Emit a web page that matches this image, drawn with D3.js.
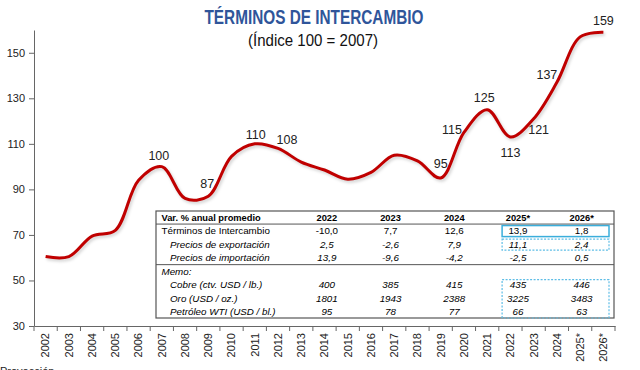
<!DOCTYPE html>
<html lang="es">
<head>
<meta charset="utf-8">
<title>Términos de intercambio</title>
<script src="https://cdn.jsdelivr.net/npm/d3@7"></script>
<style>
  body { margin: 0; background: #fff; }
  svg { display: block; font-family: "Liberation Sans", Arial, sans-serif; }
</style>
</head>
<body>
<div id="grafico"></div>
<script>
// Datos del gráfico (índice 100 = 2007)
const years = ["2002", "2003", "2004", "2005", "2006", "2007", "2008", "2009", "2010", "2011",
  "2012", "2013", "2014", "2015", "2016", "2017", "2018", "2019", "2020", "2021",
  "2022", "2023", "2024", "2025*", "2026*"];
const values = [60.5, 60.5, 69.5, 72, 94, 100, 86, 87, 104.5, 110,
  108, 102, 98.5, 94.5, 97.5, 105, 102.5, 95, 115, 125,
  113, 121, 137, 157, 159];
const yTicks = [30, 50, 70, 90, 110, 130, 150];

// Etiquetas de datos
const labelYears = ["2007", "2009", "2011", "2012", "2019", "2020", "2021", "2022", "2023", "2024", "2026*"];
const labelTexts = ["100", "87", "110", "108", "95", "115", "125", "113", "121", "137", "159"];

// Tabla
const tableHeader = "Var. % anual promedio";
const tableCols = ["2022", "2023", "2024", "2025*", "2026*"];
const rowNames = ["Términos de Intercambio", "Precios de exportación", "Precios de importación",
  "Memo:", "Cobre (ctv. USD / lb.)", "Oro (USD / oz.)", "Petróleo WTI (USD / bl.)"];
const terminos = ["-10,0", "7,7", "12,6", "13,9", "1,8"];
const exportacion = ["2,5", "-2,6", "7,9", "11,1", "2,4"];
const importacion = ["13,9", "-9,6", "-4,2", "-2,5", "0,5"];
const cobre = ["400", "385", "415", "435", "446"];
const oro = ["1801", "1943", "2388", "3225", "3483"];
const petroleo = ["95", "78", "77", "66", "63"];

// Desplazamiento de las etiquetas respecto al punto (px)
const labelOffsets = {
  "2007": [-3, -11], "2009": [-1, -13], "2011": [1, -9], "2012": [9, -9],
  "2019": [0, -14], "2020": [-12, -3], "2021": [-3, -12], "2022": [0, 16],
  "2023": [5, 11], "2024": [-10, -8], "2026*": [0, -12]
};

const width = 640, height = 370;
const plot = { left: 34, right: 615, top: 30, bottom: 326 };

const svg = d3.select("#grafico")
  .append("svg")
  .attr("width", width)
  .attr("height", height);

// Escalas
const x = d3.scaleBand().domain(years).range([plot.left, plot.right]);
const y = d3.scaleLinear().domain([30, 160]).range([plot.bottom, plot.top]);
const cx = d => x(d) + x.bandwidth() / 2;

// Títulos
svg.append("text")
  .attr("x", 314).attr("y", 24)
  .attr("text-anchor", "middle")
  .attr("textLength", 219).attr("lengthAdjust", "spacingAndGlyphs")
  .style("font-size", "20px").style("font-weight", "bold")
  .style("fill", "#2f559a")
  .text("TÉRMINOS DE INTERCAMBIO");

svg.append("text")
  .attr("x", 313).attr("y", 46)
  .attr("text-anchor", "middle")
  .attr("textLength", 130).attr("lengthAdjust", "spacingAndGlyphs")
  .style("font-size", "17px")
  .style("fill", "#111")
  .text("(Índice 100 = 2007)");

// Eje Y
const yAxis = svg.append("g")
  .attr("transform", `translate(${plot.left},0)`)
  .call(d3.axisLeft(y).tickValues(yTicks).tickSize(5).tickSizeOuter(0).tickPadding(4));
yAxis.select(".domain").attr("stroke", "#666");
yAxis.selectAll(".tick line").attr("stroke", "#666");
yAxis.selectAll("text").style("font-size", "11px").style("fill", "#222")
  .style("font-family", "'Liberation Sans', Arial, sans-serif");

// Eje X (marcas en los bordes de cada categoría, como Excel)
const xAxis = svg.append("g")
  .attr("transform", `translate(0,${plot.bottom})`)
  .call(d3.axisBottom(x).tickSize(0).tickSizeOuter(0));
xAxis.select(".domain").attr("stroke", "#666");
xAxis.selectAll("text")
  .attr("transform", "rotate(-90)")
  .attr("x", -7).attr("y", 0).attr("dy", "0.35em")
  .style("text-anchor", "end")
  .style("font-size", "11px").style("fill", "#222")
  .style("font-family", "'Liberation Sans', Arial, sans-serif");
xAxis.selectAll(".edge")
  .data(years.concat(["fin"]))
  .enter().append("line")
  .attr("class", "edge")
  .attr("x1", d => d === "fin" ? plot.right : x(d))
  .attr("x2", d => d === "fin" ? plot.right : x(d))
  .attr("y1", 0).attr("y2", 5)
  .attr("stroke", "#666");

// Línea suavizada
const series = years.map((yr, i) => ({ year: yr, value: values[i] }));
const line = d3.line()
  .x(d => cx(d.year))
  .y(d => y(d.value))
  .curve(d3.curveCatmullRom.alpha(0.5));

const defs = svg.append("defs");
defs.append("filter").attr("id", "sombra")
  .append("feGaussianBlur").attr("stdDeviation", 1.5);

svg.append("path")
  .datum(series)
  .attr("d", line)
  .attr("transform", "translate(1.5,2)")
  .attr("fill", "none")
  .attr("stroke", "rgba(0,0,0,0.18)")
  .attr("stroke-width", 3)
  .attr("filter", "url(#sombra)");

svg.append("path")
  .datum(series)
  .attr("d", line)
  .attr("fill", "none")
  .attr("stroke", "#c00000")
  .attr("stroke-width", 3)
  .attr("stroke-linejoin", "round");

// Etiquetas de datos
svg.selectAll(".etiqueta")
  .data(labelYears)
  .enter().append("text")
  .attr("class", "etiqueta")
  .attr("x", (d) => cx(d) + labelOffsets[d][0])
  .attr("y", (d) => y(values[years.indexOf(d)]) + labelOffsets[d][1])
  .attr("dy", "0.35em")
  .attr("text-anchor", "middle")
  .style("font-size", "12.5px")
  .style("fill", "#222")
  .text((d, i) => labelTexts[i]);

// Tabla
const tbl = { left: 156, right: 614, top: 211, bottom: 318 };
const colX = d3.scaleBand().domain(tableCols).range([295, 613.5]);
const rowKeys = ["header"].concat(rowNames);
const rowY = d3.scalePoint().domain(rowKeys).range([217.3, 312]);
const step = rowY.step();

const table = svg.append("g").attr("class", "tabla");

table.append("rect")
  .attr("x", tbl.left).attr("y", tbl.top)
  .attr("width", tbl.right - tbl.left).attr("height", tbl.bottom - tbl.top)
  .attr("fill", "#fff").attr("stroke", "#555").attr("stroke-width", 1.2);

[rowY("header") + step / 2, rowY("Precios de importación") + step / 2].forEach(yy => {
  table.append("line")
    .attr("x1", tbl.left).attr("x2", tbl.right)
    .attr("y1", yy).attr("y2", yy)
    .attr("stroke", "#555").attr("stroke-width", 1);
});

// Cajas azules de proyección
const boxL = colX("2025*") + 16;
const boxR = colX("2026*") + colX.bandwidth() - 4.5;
const boxes = [
  { from: "Términos de Intercambio", to: "Términos de Intercambio", dash: null },
  { from: "Precios de exportación", to: "Precios de exportación", dash: "2,1.5" },
  { from: "Cobre (ctv. USD / lb.)", to: "Petróleo WTI (USD / bl.)", dash: "2,1.5" }
];
boxes.forEach(b => {
  const top = rowY(b.from) - step / 2 + 1.5;
  const bottom = b.to === "Petróleo WTI (USD / bl.)" ? tbl.bottom : rowY(b.to) + step / 2 - 1;
  table.append("rect")
    .attr("x", boxL).attr("y", top)
    .attr("width", boxR - boxL).attr("height", bottom - top)
    .attr("fill", "none")
    .attr("stroke", b.dash ? "#5dbde6" : "#3aaedb")
    .attr("stroke-width", b.dash ? 1.2 : 1.5)
    .attr("stroke-dasharray", b.dash);
});

// Encabezado
table.append("text")
  .attr("x", 161.5).attr("y", rowY("header")).attr("dy", "0.35em")
  .style("font-size", "9.3px").style("font-weight", "bold")
  .text(tableHeader);
table.selectAll(".col")
  .data(tableCols)
  .enter().append("text")
  .attr("x", d => colX(d) + colX.bandwidth() / 2)
  .attr("y", rowY("header")).attr("dy", "0.35em")
  .attr("text-anchor", "middle")
  .style("font-size", "9.3px").style("font-weight", "bold")
  .text(d => d);

// Filas
const rowValues = [terminos, exportacion, importacion, null, cobre, oro, petroleo];
rowNames.forEach((name, i) => {
  const italic = i > 0;
  const indent = (i === 0 || i === 3) ? 161.5 : 170;
  table.append("text")
    .attr("x", indent).attr("y", rowY(name)).attr("dy", "0.35em")
    .style("font-size", "9.8px")
    .style("font-style", italic ? "italic" : "normal")
    .text(name);
  if (rowValues[i]) {
    table.selectAll(null)
      .data(rowValues[i])
      .enter().append("text")
      .attr("x", (d, j) => colX(tableCols[j]) + colX.bandwidth() / 2)
      .attr("y", rowY(name)).attr("dy", "0.35em")
      .attr("text-anchor", "middle")
      .style("font-size", "9.8px")
      .style("font-style", italic ? "italic" : "normal")
      .text(d => d);
  }
});

// Nota al pie (cortada en el borde inferior, como en el original)
svg.append("text")
  .attr("x", 0).attr("y", 375)
  .style("font-size", "11px").style("fill", "#222")
  .text("Proyección");
</script>
</body>
</html>
